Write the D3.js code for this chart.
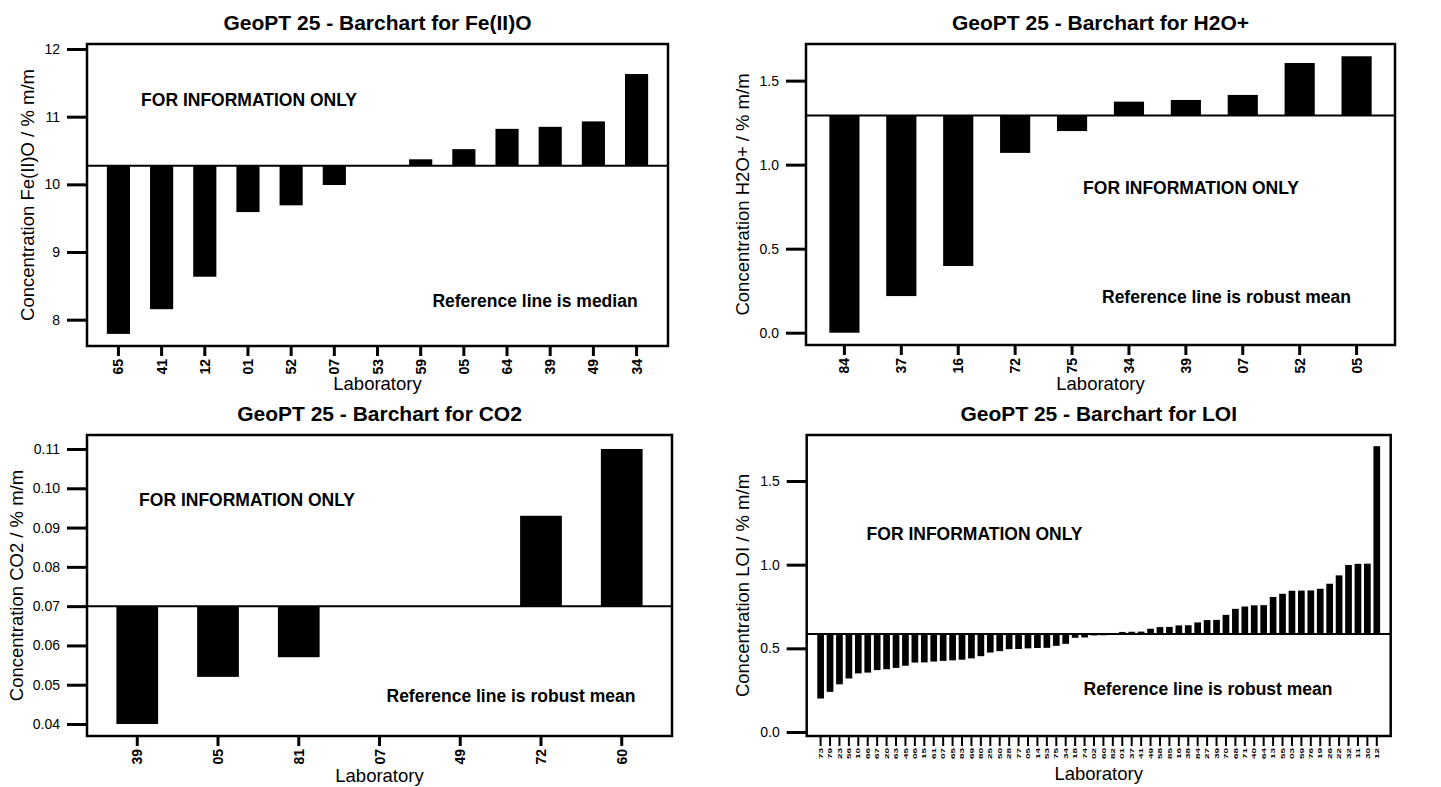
<!DOCTYPE html>
<html>
<head>
<meta charset="utf-8">
<script src="https://cdn.jsdelivr.net/npm/d3@7"></script>
<style>
  html, body { margin: 0; padding: 0; background: #fff; }
  svg { display: block; font-family: "Liberation Sans", Arial, Helvetica, sans-serif; }
</style>
</head>
<body>
<svg id="chart" width="1441" height="787"></svg>
<script>
// ---------------- DATA ----------------
const feLabs = ["65","41","12","01","52","07","53","59","05","64","39","49","34"];
const feVals = [7.79, 8.155, 8.635, 9.59, 9.69, 9.99, 10.275, 10.37, 10.52, 10.82, 10.85, 10.93, 11.63];
const feRef = 10.275;
const feTicks = [8, 9, 10, 11, 12];

const h2oLabs = ["84","37","16","72","75","34","39","07","52","05"];
const h2oVals = [0.0, 0.218, 0.397, 1.07, 1.20, 1.375, 1.385, 1.415, 1.605, 1.645];
const h2oRef = 1.292;
const h2oTicks = [0.0, 0.5, 1.0, 1.5];

const co2Labs = ["39","05","81","07","49","72","60"];
const co2Vals = [0.040, 0.052, 0.057, 0.070, 0.070, 0.093, 0.110];
const co2Ref = 0.070;
const co2Ticks = [0.04, 0.05, 0.06, 0.07, 0.08, 0.09, 0.10, 0.11];

const loiLabs = ["73","79","23","56","10","66","67","20","63","45",
                 "06","15","61","07","65","83","69","80","25","50",
                 "28","77","05","14","53","75","34","18","74","02",
                 "60","82","01","37","41","49","58","85","16","38",
                 "84","27","39","70","68","71","40","64","13","55",
                 "03","59","76","19","26","22","32","11","30","12"];
const loiVals = [0.200, 0.240, 0.285, 0.320, 0.350, 0.355, 0.370, 0.375, 0.383, 0.396,
                 0.415, 0.416, 0.421, 0.425, 0.428, 0.432, 0.440, 0.453, 0.475, 0.483,
                 0.495, 0.496, 0.500, 0.502, 0.503, 0.515, 0.527, 0.563, 0.565, 0.577,
                 0.578, 0.580, 0.598, 0.599, 0.600, 0.617, 0.627, 0.628, 0.637, 0.638,
                 0.655, 0.669, 0.670, 0.700, 0.736, 0.750, 0.757, 0.758, 0.807, 0.826,
                 0.844, 0.845, 0.846, 0.856, 0.886, 0.936, 0.998, 1.005, 1.006, 1.708];
const loiRef = 0.586;
const loiTicks = [0.0, 0.5, 1.0, 1.5];

// ---------------- LAYOUT ----------------
const svg = d3.select("#chart");

const panels = [
  { labs: feLabs, vals: feVals, ref: feRef, ticks: feTicks, fmt: d3.format("d"),
    title: "GeoPT 25 - Barchart for Fe(II)O", ylab: "Concentration Fe(II)O / % m/m",
    refText: "Reference line is median",
    box: {l: 87, r: 668, t: 44, b: 346}, yDom: [7.611, 12.074], pi: 0.464, po: 0.46,
    titleY: 22, ylabX: 27.5, xlabY: 383, info: [249, 100], refPos: [535, 301],
    xTick: 10, xLabOff: 13, xLabSize: 14, xLabScale: 1 },
  { labs: h2oLabs, vals: h2oVals, ref: h2oRef, ticks: h2oTicks, fmt: d3.format(".1f"),
    title: "GeoPT 25 - Barchart for H2O+", ylab: "Concentration H2O+ / % m/m",
    refText: "Reference line is robust mean",
    box: {l: 806, r: 1395, t: 44, b: 345}, yDom: [-0.0732, 1.718], pi: 0.47, po: 0.41,
    titleY: 22, ylabX: 742.5, xlabY: 383, info: [1191, 188], refPos: [1226.5, 297],
    xTick: 10, xLabOff: 13, xLabSize: 14, xLabScale: 1 },
  { labs: co2Labs, vals: co2Vals, ref: co2Ref, ticks: co2Ticks, fmt: d3.format(".2f"),
    title: "GeoPT 25 - Barchart for CO2", ylab: "Concentration CO2 / % m/m",
    refText: "Reference line is robust mean",
    box: {l: 87, r: 672, t: 435, b: 736}, yDom: [0.03695, 0.11356], pi: 0.483, po: 0.364,
    titleY: 413, ylabX: 16, xlabY: 775, info: [247, 500], refPos: [511, 696],
    xTick: 10, xLabOff: 13, xLabSize: 14, xLabScale: 1 },
  { labs: loiLabs, vals: loiVals, ref: loiRef, ticks: loiTicks, fmt: d3.format(".1f"),
    title: "GeoPT 25 - Barchart for LOI", ylab: "Concentration LOI / % m/m",
    refText: "Reference line is robust mean",
    box: {l: 806.7, r: 1390.7, t: 435, b: 736}, yDom: [-0.024, 1.775], pi: 0.29, po: 1.12,
    titleY: 413, ylabX: 742, xlabY: 773, info: [974.5, 534], refPos: [1208, 689],
    xTick: 10, xLabOff: 12, xLabSize: 10, xLabScale: 0.6 }
];

function drawPanel(p) {
  const g = svg.append("g");
  const x = d3.scaleBand().domain(p.labs).range([p.box.l, p.box.r])
    .paddingInner(p.pi).paddingOuter(p.po);
  const y = d3.scaleLinear().domain(p.yDom).range([p.box.b, p.box.t]);
  const data = p.vals.map((v, i) => ({ lab: p.labs[i], v }));

  // bars from reference line
  g.selectAll("rect.bar").data(data).join("rect")
    .attr("class", "bar")
    .attr("x", d => x(d.lab))
    .attr("width", x.bandwidth())
    .attr("y", d => y(Math.max(d.v, p.ref)))
    .attr("height", d => Math.abs(y(d.v) - y(p.ref)))
    .attr("fill", "#000");

  // reference line
  g.append("line")
    .attr("x1", p.box.l).attr("x2", p.box.r)
    .attr("y1", y(p.ref)).attr("y2", y(p.ref))
    .attr("stroke", "#000").attr("stroke-width", 2);

  // plot box
  g.append("rect")
    .attr("x", p.box.l).attr("y", p.box.t)
    .attr("width", p.box.r - p.box.l).attr("height", p.box.b - p.box.t)
    .attr("fill", "none").attr("stroke", "#000").attr("stroke-width", 2.5);

  // y axis
  const ya = g.append("g").attr("transform", `translate(${p.box.l},0)`)
    .call(d3.axisLeft(y).tickValues(p.ticks).tickFormat(p.fmt).tickSize(20).tickPadding(7));
  ya.select(".domain").remove();
  ya.attr("font-size", 14).attr("font-family", null);
  ya.selectAll(".tick line").attr("stroke-width", 3);
  ya.selectAll(".tick text").attr("fill", "#000");

  // x axis
  const xa = g.append("g").attr("transform", `translate(0,${p.box.b})`)
    .call(d3.axisBottom(x).tickSize(p.xTick).tickSizeOuter(0));
  xa.select(".domain").remove();
  xa.attr("font-size", p.xLabSize).attr("font-family", null);
  xa.selectAll(".tick line").attr("stroke-width", p.labs.length > 20 ? 2 : 3);
  xa.selectAll(".tick text")
    .attr("transform", `rotate(-90) scale(1,${p.xLabScale})`)
    .attr("x", -p.xLabOff).attr("y", 0).attr("dy", "0.36em")
    .attr("text-anchor", "end")
    .attr("font-weight", "bold")
    .attr("fill", "#000");

  // title
  g.append("text")
    .attr("x", (p.box.l + p.box.r) / 2).attr("y", p.titleY)
    .attr("text-anchor", "middle").attr("dominant-baseline", "central")
    .attr("font-size", 21).attr("font-weight", "bold")
    .text(p.title);

  // y label
  g.append("text")
    .attr("transform", `translate(${p.ylabX},${(p.box.t + p.box.b) / 2}) rotate(-90)`)
    .attr("text-anchor", "middle").attr("dominant-baseline", "central")
    .attr("font-size", 18.5)
    .text(p.ylab);

  // x label
  g.append("text")
    .attr("x", (p.box.l + p.box.r) / 2).attr("y", p.xlabY)
    .attr("text-anchor", "middle").attr("dominant-baseline", "central")
    .attr("font-size", 18.5)
    .text("Laboratory");

  // annotations
  g.append("text")
    .attr("x", p.info[0]).attr("y", p.info[1])
    .attr("text-anchor", "middle").attr("dominant-baseline", "central")
    .attr("font-size", 17.5).attr("font-weight", "bold")
    .text("FOR INFORMATION ONLY");
  g.append("text")
    .attr("x", p.refPos[0]).attr("y", p.refPos[1])
    .attr("text-anchor", "middle").attr("dominant-baseline", "central")
    .attr("font-size", 17.5).attr("font-weight", "bold")
    .text(p.refText);
}

panels.forEach(drawPanel);
</script>
</body>
</html>
